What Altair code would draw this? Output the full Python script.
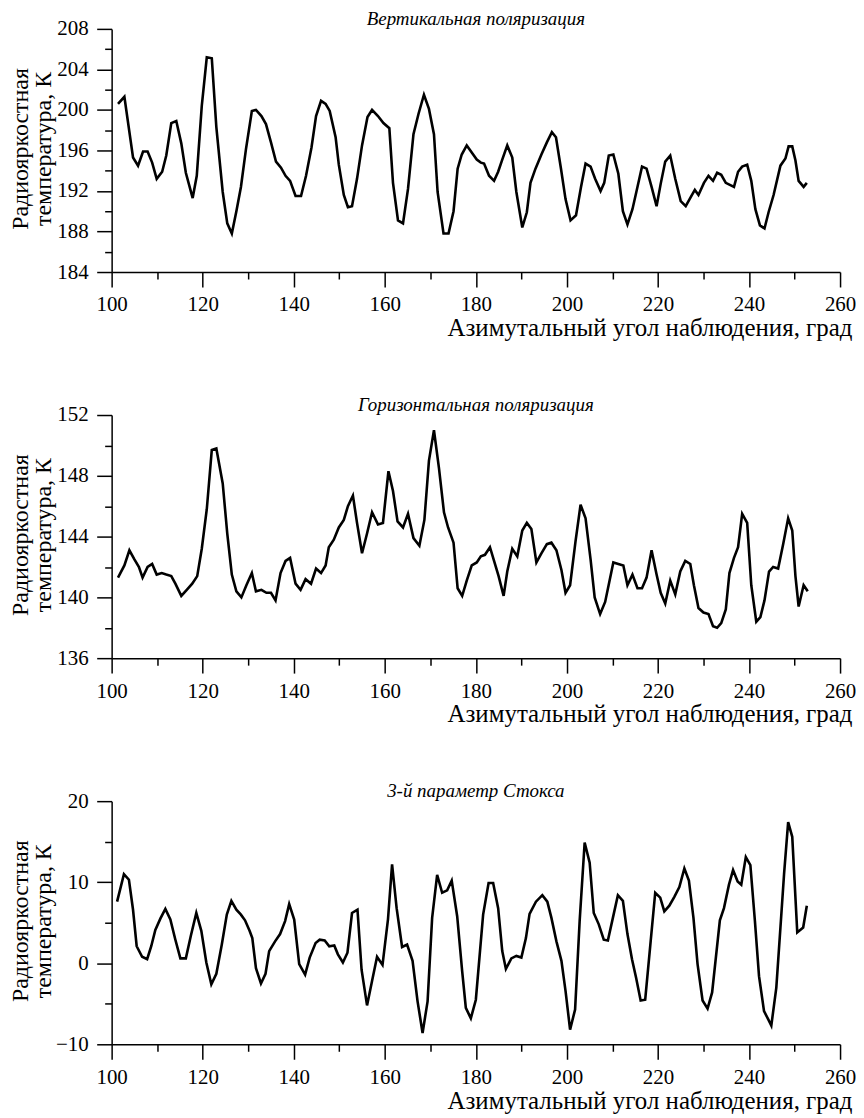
import altair as alt
import pandas as pd

# ---- data ----
v_x = [101.4, 102.8, 104.7, 105.8, 106.9, 107.9, 108.9, 109.9, 111.1, 112.0,
       113.1, 114.2, 115.3, 116.3, 117.8, 118.7, 119.8, 120.9, 122.0, 123.0,
       124.4, 125.4, 126.4, 127.4, 128.4, 129.5, 130.8, 131.7, 132.9, 133.9,
       135.0, 136.1, 137.2, 138.2, 139.2, 140.4, 141.6, 142.7, 143.9, 144.9,
       146.0, 147.0, 147.9, 149.2, 149.9, 151.0, 151.9, 152.8, 153.9, 155.0,
       156.2, 157.2, 158.5, 159.7, 161.0, 161.8, 162.9, 164.0, 165.1, 166.3,
       167.4, 168.6, 169.7, 170.8, 171.6, 172.9, 174.0, 175.1, 176.0, 176.9,
       178.0, 179.1, 180.2, 181.1, 181.8, 182.9, 184.0, 184.9, 185.8, 186.9,
       188.0, 188.9, 190.2, 191.2, 192.0, 193.1, 194.4, 195.6, 196.7, 197.6,
       198.7, 199.7, 200.8, 202.0, 203.1, 204.1, 205.2, 206.2, 207.4, 208.2,
       209.2, 210.2, 211.3, 212.3, 213.3, 214.4, 215.5, 216.5, 217.5, 218.6,
       219.7, 220.6, 221.6, 222.7, 223.8, 225.0, 226.1, 227.2, 228.1, 228.9,
       230.1, 231.1, 232.1, 233.0, 233.9, 234.9, 235.8, 236.7, 237.6, 238.5,
       239.6, 240.5, 241.4, 242.4, 243.4, 244.3, 245.4, 246.9, 248.0, 248.7,
       249.5, 250.2, 250.9, 252.0, 252.7]
v_y = [200.6, 201.3, 195.3, 194.5, 195.9, 195.9, 194.8, 193.2, 193.9, 195.5,
       198.7, 198.9, 196.7, 193.8, 191.3, 193.5, 200.4, 205.2, 205.1, 198.3,
       191.9, 188.8, 187.8, 190.0, 192.4, 196.1, 199.9, 200.0, 199.4, 198.6,
       196.8, 194.9, 194.3, 193.5, 193.0, 191.5, 191.5, 193.5, 196.3, 199.4,
       200.9, 200.6, 199.9, 197.3, 194.6, 191.6, 190.4, 190.5, 193.2, 196.5,
       199.3, 200.0, 199.4, 198.7, 198.2, 192.8, 189.1, 188.8, 192.2, 197.6,
       199.6, 201.5, 200.1, 197.6, 191.9, 187.8, 187.8, 190.0, 194.2, 195.6,
       196.5, 195.8, 195.1, 194.8, 194.7, 193.5, 193.0, 193.9, 195.1, 196.5,
       195.3, 191.9, 188.4, 189.9, 192.8, 194.2, 195.6, 196.8, 197.8, 197.3,
       194.2, 191.2, 189.1, 189.6, 192.4, 194.7, 194.4, 193.2, 192.0, 192.8,
       195.5, 195.6, 193.7, 190.0, 188.7, 190.2, 192.4, 194.4, 194.2, 192.4,
       190.5, 192.7, 194.9, 195.5, 193.2, 191.0, 190.5, 191.4, 192.1, 191.6,
       192.8, 193.5, 193.0, 193.8, 193.6, 192.8, 192.6, 192.4, 193.9, 194.4,
       194.6, 193.0, 190.2, 188.6, 188.3, 189.9, 191.6, 194.5, 195.2, 196.4,
       196.4, 195.0, 193.0, 192.4, 192.8]

h_x = [101.4, 102.8, 103.9, 105.0, 106.0, 106.8, 107.9, 108.9, 109.9, 111.0,
       112.0, 113.1, 114.0, 115.3, 116.5, 117.7, 118.8, 119.8, 120.9, 122.0,
       123.0, 124.4, 125.4, 126.4, 127.4, 128.5, 129.6, 130.8, 131.7, 132.9,
       134.0, 135.0, 136.0, 137.1, 138.2, 139.2, 140.4, 141.5, 142.6, 143.8,
       144.9, 146.0, 147.0, 147.7, 148.8, 149.9, 151.0, 151.9, 153.0, 153.9,
       155.0, 156.1, 157.2, 158.5, 159.6, 160.8, 161.8, 162.8, 164.0, 165.1,
       166.3, 167.6, 168.7, 169.7, 170.8, 171.9, 173.0, 173.9, 175.1, 176.0,
       177.0, 178.0, 179.1, 180.2, 181.1, 182.0, 183.1, 184.0, 185.0, 186.1,
       186.9, 188.0, 189.1, 190.2, 191.2, 192.2, 193.3, 194.4, 195.6, 196.6,
       197.7, 198.8, 199.7, 200.7, 201.9, 203.0, 204.1, 205.2, 206.1, 207.3,
       208.4, 209.3, 210.2, 211.3, 212.4, 213.3, 214.4, 215.5, 216.5, 217.5,
       218.6, 219.7, 220.6, 221.6, 222.7, 223.8, 224.9, 226.0, 227.1, 227.9,
       228.9, 230.0, 231.1, 232.1, 233.0, 233.9, 234.9, 235.7, 236.7, 237.6,
       238.5, 239.6, 240.5, 241.6, 242.5, 243.4, 244.4, 245.3, 246.4, 247.5,
       248.6, 249.5, 250.2, 250.9, 252.0, 252.9]
h_y = [141.3, 142.1, 143.1, 142.5, 142.0, 141.3, 142.0, 142.2, 141.5, 141.6,
       141.5, 141.4, 140.9, 140.1, 140.5, 140.9, 141.4, 143.2, 145.8, 149.7,
       149.8, 147.5, 144.2, 141.5, 140.4, 140.0, 140.8, 141.6, 140.4, 140.5,
       140.3, 140.3, 139.8, 141.6, 142.4, 142.6, 140.9, 140.5, 141.2, 140.9,
       141.9, 141.6, 142.1, 143.3, 143.8, 144.6, 145.1, 146.0, 146.7, 144.9,
       142.9, 144.2, 145.6, 144.8, 144.9, 148.3, 147.0, 145.0, 144.6, 145.5,
       143.9, 143.4, 145.1, 149.0, 151.0, 148.5, 145.6, 144.6, 143.6, 140.6,
       140.1, 141.1, 142.1, 142.3, 142.7, 142.8, 143.3, 142.4, 141.4, 140.1,
       141.7, 143.2, 142.7, 144.4, 144.9, 144.5, 142.3, 142.9, 143.5, 143.6,
       143.1, 141.8, 140.3, 140.8, 143.7, 146.1, 145.2, 142.5, 140.0, 138.9,
       139.7, 141.0, 142.3, 142.2, 142.1, 140.8, 141.5, 140.6, 140.6, 141.3,
       143.1, 141.5, 140.3, 139.6, 141.1, 140.2, 141.7, 142.4, 142.2, 140.8,
       139.3, 139.0, 138.9, 138.1, 138.0, 138.3, 139.2, 141.6, 142.6, 143.3,
       145.5, 144.9, 140.8, 138.4, 138.7, 139.8, 141.7, 142.0, 141.9, 143.5,
       145.2, 144.4, 141.4, 139.4, 140.8, 140.4]

s_x = [101.2, 102.7, 103.8, 104.7, 105.5, 106.7, 107.8, 108.7, 109.6, 110.7,
       111.8, 112.9, 114.0, 115.1, 116.3, 117.4, 118.6, 119.7, 120.8, 121.9,
       123.0, 124.2, 125.3, 126.3, 127.4, 128.4, 129.3, 130.3, 130.9, 131.7,
       132.8, 133.8, 134.6, 135.9, 137.0, 138.1, 139.0, 140.1, 141.2, 142.5,
       143.5, 144.8, 145.7, 146.8, 147.8, 148.9, 149.7, 150.8, 151.8, 152.8,
       154.0, 154.9, 156.1, 157.2, 158.3, 159.5, 160.7, 161.6, 162.6, 163.8,
       164.9, 166.1, 167.2, 168.3, 169.4, 170.4, 171.5, 172.6, 173.7, 174.7,
       175.9, 177.0, 177.8, 178.9, 180.0, 181.6, 182.8, 183.8, 184.9, 185.8,
       186.6, 187.8, 188.9, 190.0, 191.0, 191.8, 193.2, 194.6, 195.7, 196.6,
       197.7, 198.8, 199.7, 200.7, 201.8, 202.8, 203.9, 205.0, 205.9, 207.0,
       208.1, 209.0, 210.1, 211.2, 212.3, 213.3, 214.3, 215.2, 216.2, 217.2,
       218.3, 219.4, 220.5, 221.4, 222.5, 223.6, 224.7, 225.8, 226.8, 227.8,
       228.7, 229.8, 230.9, 231.9, 233.6, 234.5, 235.6, 236.5, 237.5, 238.3,
       239.3, 240.3, 241.3, 242.2, 243.3, 244.2, 244.9, 246.0, 247.0, 247.7,
       248.6, 249.5, 250.6, 251.9, 252.7]
s_y = [7.6, 11.0, 10.3, 6.6, 2.1, 0.8, 0.5, 2.1, 4.1, 5.5,
       6.7, 5.4, 2.9, 0.6, 0.6, 3.4, 6.2, 4.0, 0.1, -2.6,
       -1.3, 2.3, 6.0, 7.7, 6.6, 6.0, 5.3, 4.0, 3.1, -0.6,
       -2.5, -1.3, 1.5, 2.7, 3.6, 5.2, 7.3, 5.4, -0.1, -1.4,
       0.7, 2.5, 2.9, 2.8, 2.1, 2.2, 1.1, 0.1, 1.3, 6.2,
       6.6, -0.8, -5.2, -2.2, 0.8, -0.2, 5.4, 12.2, 6.8, 2.0,
       2.3, 0.3, -4.7, -8.6, -4.7, 5.6, 10.9, 8.7, 9.0, 10.2,
       5.8, -1.0, -5.5, -6.8, -4.5, 6.0, 9.9, 9.9, 6.8, 1.5,
       -0.7, 0.6, 0.9, 0.7, 3.1, 6.1, 7.6, 8.4, 7.6, 5.6,
       2.7, 0.3, -3.4, -8.2, -5.7, 5.2, 14.9, 12.4, 6.2, 4.8,
       2.9, 2.8, 5.6, 8.4, 7.7, 3.6, 0.5, -1.8, -4.6, -4.5,
       2.1, 8.7, 8.1, 6.4, 7.1, 8.2, 9.4, 11.7, 10.2, 5.6,
       -0.1, -4.6, -5.6, -3.6, 5.3, 6.8, 9.7, 11.5, 10.1, 9.7,
       13.1, 12.1, 5.2, -1.6, -5.9, -6.9, -7.7, -3.0, 5.2, 11.0,
       17.4, 15.6, 3.8, 4.4, 7.1]

titles = ["Вертикальная поляризация", "Горизонтальная поляризация", "3-й параметр Стокса"]
x_title = "Азимутальный угол наблюдения, град"
y_title = ["Радиояркостная", "температура, К"]
x_ticks = list(range(100, 261, 10))
y_specs = [
    (184, 208, 2, 4),
    (136, 152, 2, 4),
    (-10, 20, 5, 10),
]

FONT = "Liberation Serif, DejaVu Serif, Liberation Sans"
W, H = 731, 244


def panel(xs, ys, title, spec):
    lo, hi, step, major = spec
    df = pd.DataFrame({"x": xs, "y": ys})
    yvals = list(range(lo, hi + 1, step))
    xaxis = alt.Axis(
        values=x_ticks,
        labelExpr="datum.value % 20 === 0 ? datum.label : ''",
        tickSize={"condition": {"test": "datum.value % 20 === 0", "value": 15}, "value": 7},
        title=x_title,
        titleX=743, titleY=64, titleAlign="right", titleBaseline="alphabetic",
        titleFontSize=25, titleFontWeight="normal",
        labelFlush=False, labelOverlap=False, labelPadding=7,
        grid=False,
    )
    yaxis = alt.Axis(
        values=yvals,
        labelExpr=f"datum.value % {major} === 0 ? datum.label : ''",
        tickSize={"condition": {"test": f"datum.value % {major} === 0", "value": 15}, "value": 7},
        title=y_title,
        titleAngle=270, titleX=-84, titleY=120, titleAlign="center",
        titleBaseline="alphabetic", titleLineHeight=23,
        titleFontSize=24, titleFontWeight="normal",
        labelFlush=False, labelOverlap=False, labelPadding=8.5,
        grid=False,
    )
    return alt.Chart(df).mark_line(color="black", strokeWidth=2.6).encode(
        x=alt.X("x:Q", scale=alt.Scale(domain=[100, 260], nice=False, zero=False), axis=xaxis),
        y=alt.Y("y:Q", scale=alt.Scale(domain=[lo, hi], nice=False, zero=False), axis=yaxis),
    ).properties(
        width=W, height=H,
        title=alt.TitleParams(title, fontStyle="italic", fontWeight="normal", fontSize=19,
                              font=FONT, offset=-11, anchor="middle", frame="group", color="black"),
    )


chart = alt.vconcat(
    panel(v_x, v_y, titles[0], y_specs[0]),
    panel(h_x, h_y, titles[1], y_specs[1]),
    panel(s_x, s_y, titles[2], y_specs[2]),
    spacing=143.5,
    bounds="flush",
).properties(
    padding={"left": 1, "top": 0, "right": 0, "bottom": 0},
    background="white",
).configure_view(stroke=None).configure_axis(
    labelFont=FONT, titleFont=FONT, labelFontSize=21, labelColor="black", titleColor="black",
    domainColor="black", domainWidth=1.5, tickColor="black", tickWidth=1.5,
)

chart.save("out.html", embed_options={"renderer": "svg", "actions": False})
